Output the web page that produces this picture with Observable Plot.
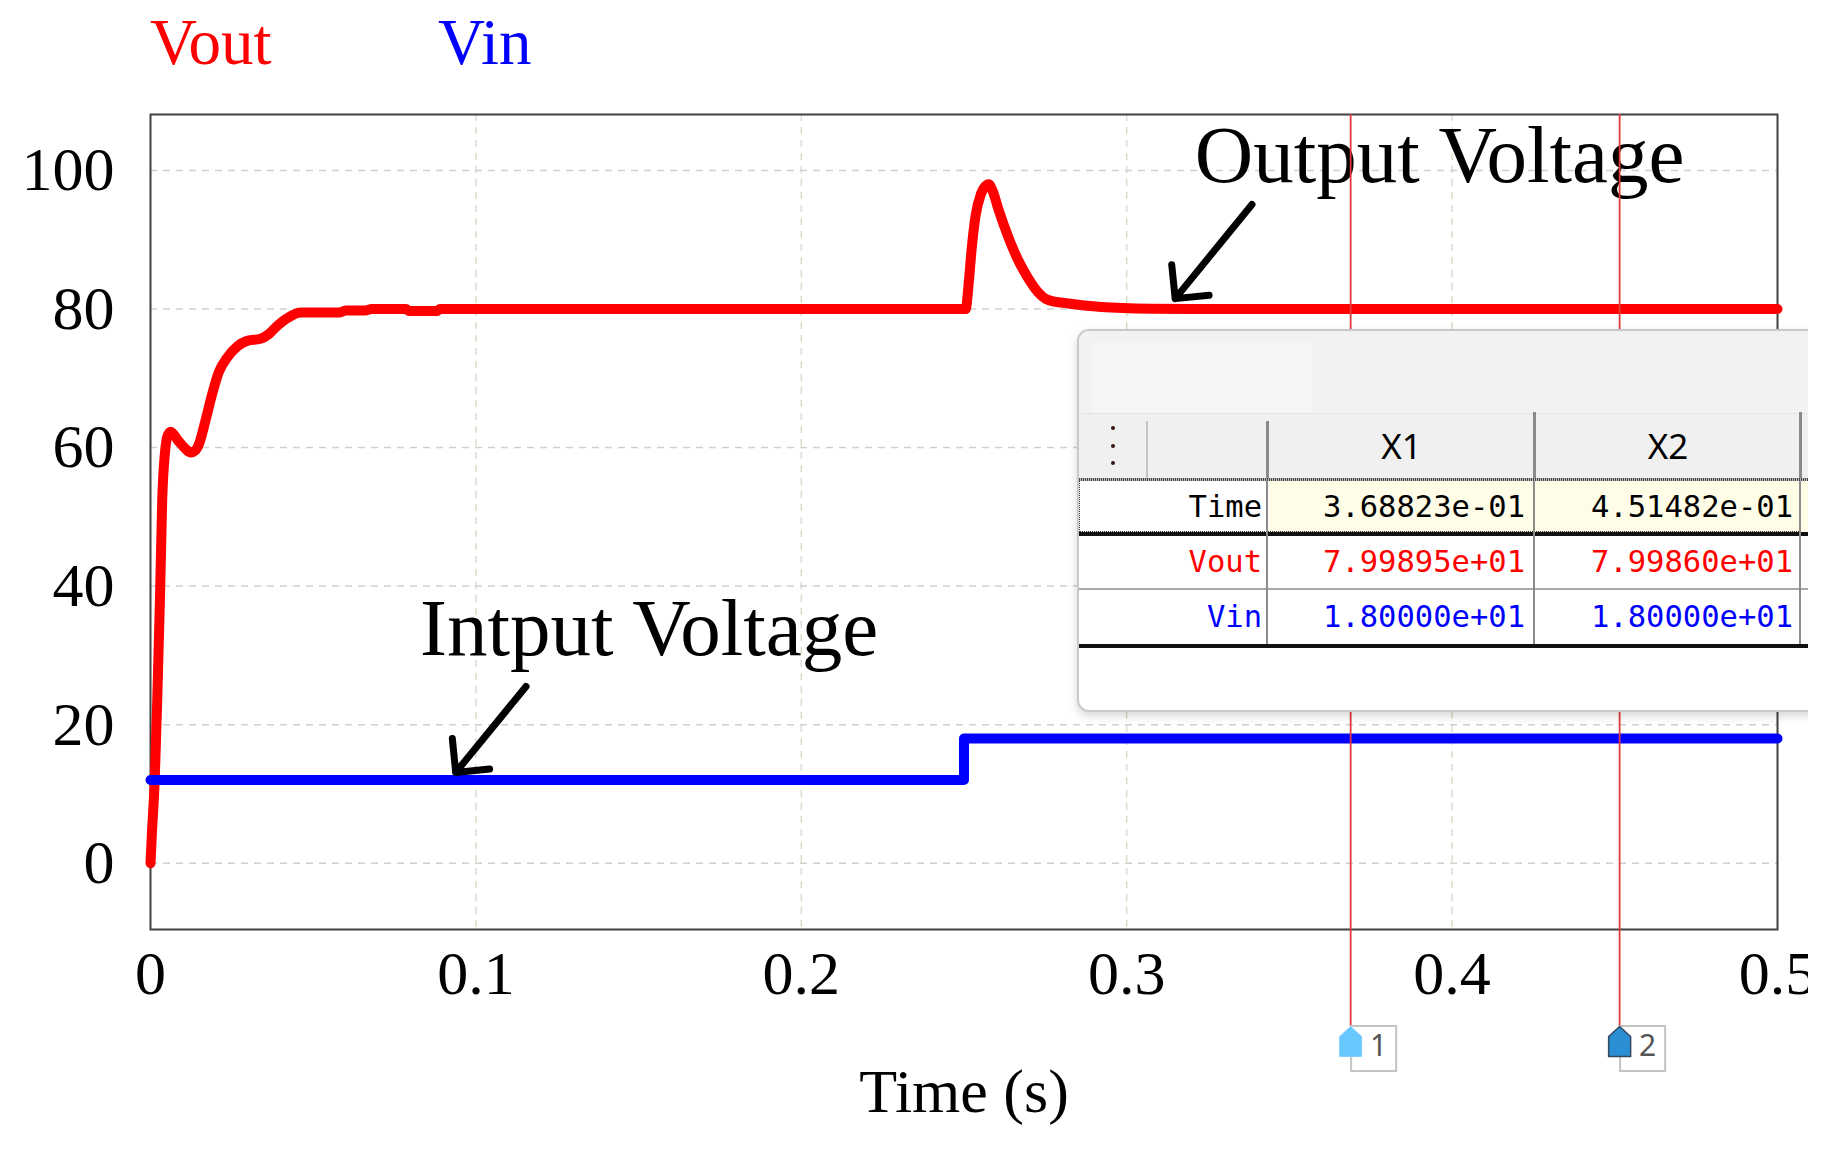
<!DOCTYPE html>
<html>
<head>
<meta charset="utf-8">
<script src="https://cdn.jsdelivr.net/npm/d3@7"></script>
<script src="https://cdn.jsdelivr.net/npm/@observablehq/plot@0.6"></script>
<style>
  html, body { margin: 0; padding: 0; background: #fff; }
  #page { position: relative; width: 1840px; height: 1153px; background: #fff; }
  #clip { position: absolute; left: 0; top: 0; width: 1808px; height: 1153px; overflow: hidden; }
  #chart { width: 1840px; }
  #chart svg { max-width: none !important; width: 1840px; height: 1053px; }
  #legend { position: relative; height: 100px; font-family: 'Liberation Serif', 'Times New Roman', serif; font-size: 65px; line-height: 65px; }
  #legend span { position: absolute; top: 10px; white-space: nowrap; }
  #panel { position: absolute; left: 1077px; top: 329px; width: 800px; height: 383px; box-sizing: border-box;
           border: 2px solid #c9c9c9; border-radius: 12px; background: #fff; overflow: hidden;
           box-shadow: 0 4px 10px rgba(0,0,0,0.16); }
  #panel div { position: absolute; box-sizing: border-box; white-space: nowrap; }
</style>
</head>
<body>
<div id="page">
  <div id="clip">
    <div id="legend"></div>
    <div id="chart"></div>
    <div id="panel"></div>
  </div>
</div>
<script>
// ---------------- data ----------------
const seriesNames = ["Vout", "Vin"];
const seriesColors = ["#ff0000", "#0000ff"];

const voutTime = [0, 0.0004, 0.0013, 0.0021, 0.0029, 0.0036, 0.0045, 0.0053, 0.0062, 0.0085, 0.0108, 0.0123, 0.0138, 0.0149, 0.0169, 0.0190, 0.0210, 0.0236, 0.0267, 0.0297, 0.0338, 0.0364, 0.0390, 0.0421, 0.0462, 0.0580, 0.0600, 0.0660, 0.0680, 0.0785, 0.0795, 0.0880, 0.0890, 0.2505, 0.2515, 0.2523, 0.2535, 0.2552, 0.2565, 0.2576, 0.2590, 0.2605, 0.2636, 0.2667, 0.2698, 0.2728, 0.2759, 0.2821, 0.2923, 0.3077, 0.3200, 0.5000];
const voutValue = [0, 4, 12, 24, 38, 52.4, 59.5, 61.8, 62.3, 61.0, 59.8, 59.3, 59.6, 60.5, 63.9, 67.8, 70.9, 73.0, 74.6, 75.4, 75.7, 76.4, 77.6, 78.7, 79.5, 79.5, 79.8, 79.8, 80.0, 80.0, 79.7, 79.7, 80.0, 80.0, 84.0, 88.4, 93.3, 96.6, 97.7, 98.0, 96.8, 94.5, 90.4, 87.0, 84.4, 82.4, 81.3, 80.8, 80.3, 80.05, 80.0, 80.0];

const vinTime = [0, 0.25, 0.5];
const vinValue = [12, 18, 18];

const xTicks = [0, 0.1, 0.2, 0.3, 0.4, 0.5];
const yTicks = [0, 20, 40, 60, 80, 100];
const xGrid = [0.1, 0.2, 0.3, 0.4];

// annotations (data units)
const noteText = ["Output Voltage", "Intput Voltage"];
const noteTime = [0.3209, 0.0828];
const noteValue = [98.3, 30.1];
const arrowFromTime = [0.3385, 0.1154];
const arrowFromValue = [95.1, 25.5];
const arrowToTime = [0.3149, 0.0938];
const arrowToValue = [81.5, 13.1];

// cursors
const cursorTimes = [0.368823, 0.451482];
const cursorIds = ["1", "2"];
const cursorHeads = ["X1", "X2"];
const tableRowNames = ["Time", "Vout", "Vin"];
const tableRowColors = ["#000000", "#ff0000", "#0000ff"];
const tableX1 = ["3.68823e-01", "7.99895e+01", "1.80000e+01"];
const tableX2 = ["4.51482e-01", "7.99860e+01", "1.80000e+01"];

// ---------------- legend ----------------
const legend = document.getElementById("legend");
const legendLeft = [150, 438];
seriesNames.forEach((n, i) => {
  const s = document.createElement("span");
  s.textContent = n;
  s.style.left = legendLeft[i] + "px";
  s.style.color = seriesColors[i];
  legend.appendChild(s);
});

// ---------------- chart ----------------
const vout = d3.zip(voutTime, voutValue).map(([t, v]) => ({t, v}));
const vin = d3.zip(vinTime, vinValue).map(([t, v]) => ({t, v}));
const notes = noteText.map((text, i) => ({
  text, t: noteTime[i], v: noteValue[i],
  t1: arrowFromTime[i], v1: arrowFromValue[i], t2: arrowToTime[i], v2: arrowToValue[i]
}));

const houseSymbol = {
  draw(context, size) {
    const r = Math.sqrt(size / Math.PI);
    const w = r * 0.733;
    context.moveTo(0, -r);
    context.lineTo(w, -r / 3);
    context.lineTo(w, r);
    context.lineTo(-w, r);
    context.lineTo(-w, -r / 3);
    context.closePath();
  }
};

const serif = "'Liberation Serif', 'Times New Roman', serif";

const chart = Plot.plot({
  width: 1840,
  height: 1053,
  marginTop: 14,
  marginLeft: 150,
  marginRight: 63,
  marginBottom: 224,
  style: { fontFamily: serif, fontSize: "62px", color: "#000", background: "transparent", overflow: "visible", maxWidth: "none" },
  x: { domain: [0, 0.5], ticks: xTicks, tickFormat: d => String(d), tickSize: 0, tickPadding: 20, label: null },
  y: { domain: [-9.57, 108.08], ticks: yTicks, tickFormat: d => String(d), tickSize: 0, tickPadding: 36, label: null },
  marks: [
    Plot.ruleX(xGrid, { stroke: "#d3e0cb", strokeWidth: 1.5, strokeDasharray: "7,6" }),
    Plot.ruleY(yTicks, { stroke: "#cfcfcf", strokeWidth: 1.5, strokeDasharray: "7,6" }),
    Plot.frame({ stroke: "#404040", strokeWidth: 2 }),
    Plot.line(vout, { x: "t", y: "v", stroke: seriesColors[0], strokeWidth: 10, curve: "monotone-x", strokeLinecap: "round", strokeLinejoin: "round" }),
    Plot.line(vin, { x: "t", y: "v", stroke: seriesColors[1], strokeWidth: 10, curve: "step-after", strokeLinecap: "round", strokeLinejoin: "round" }),
    Plot.text(notes, { x: "t", y: "v", text: "text", textAnchor: "start", lineAnchor: "bottom", fontSize: 81, fill: "#000" }),
    Plot.arrow(notes, { x1: "t1", y1: "v1", x2: "t2", y2: "v2", stroke: "#000", strokeWidth: 7, headAngle: 90, headLength: 7.3, strokeLinecap: "round", strokeLinejoin: "round" }),
    Plot.ruleX(cursorTimes, { stroke: "#e03a3a", strokeWidth: 1.8, insetBottom: -97 }),
    Plot.dot(cursorTimes, { x: d => d, frameAnchor: "bottom", dx: 23, dy: 119, symbol: "square", r: 25.4, fill: "none", stroke: "#c4c4c4", strokeWidth: 2 }),
    Plot.dot([cursorTimes[0]], { x: d => d, frameAnchor: "bottom", dy: 112, symbol: houseSymbol, r: 15, fill: "#66c8ff", stroke: "#7fd0ff", strokeWidth: 1 }),
    Plot.dot([cursorTimes[1]], { x: d => d, frameAnchor: "bottom", dy: 112, symbol: houseSymbol, r: 15, fill: "#2a8fd4", stroke: "#34495e", strokeWidth: 1.5 }),
    Plot.text(cursorIds, { x: (d, i) => cursorTimes[i], text: d => d, frameAnchor: "bottom", dx: 28, dy: 117, lineAnchor: "middle", fontFamily: "'Noto Sans', sans-serif", fontSize: 30, fill: "#555" }),
    Plot.text(["Time (s)"], { text: d => d, frameAnchor: "bottom", dy: 182, lineAnchor: "bottom", fontSize: 62, fill: "#000" })
  ]
});
document.getElementById("chart").appendChild(chart);

// ---------------- cursor table ----------------
const panel = document.getElementById("panel");
const ox = 1079, oy = 331; // panel padding-box origin in page coordinates
function box(x, y, w, h, css, text) {
  const d = document.createElement("div");
  d.style.left = (x - ox) + "px";
  d.style.top = (y - oy) + "px";
  d.style.width = w + "px";
  d.style.height = h + "px";
  Object.assign(d.style, css || {});
  if (text != null) d.textContent = text;
  panel.appendChild(d);
  return d;
}
// top area & header
box(1079, 331, 800, 82, { background: "#f2f2f2" });
box(1092, 342, 220, 71, { background: "#f5f5f5" });
box(1079, 413, 800, 66, { background: "#f0f0f0", borderTop: "1px solid #e2e2e2" });
box(1146, 421, 2, 58, { background: "#c4c4c4" });
box(1266, 421, 3, 58, { background: "#8a8a8a" });
box(1533, 412, 3, 67, { background: "#8a8a8a" });
box(1799, 412, 3, 67, { background: "#8a8a8a" });
[428, 446, 463].forEach(y => box(1111, y - 2, 4, 4, { background: "#3b1414", borderRadius: "2px" }));
const headFont = { fontFamily: "'Noto Sans', sans-serif", fontSize: "35px", lineHeight: "66px", textAlign: "center", color: "#000" };
box(1269, 413, 265, 66, headFont, cursorHeads[0]);
box(1536, 413, 264, 66, headFont, cursorHeads[1]);
box(1079, 478, 800, 3, { backgroundImage: "repeating-linear-gradient(90deg,#444 0 1px,#bbb 1px 2px)" });

// rows
const rowTop = [481, 535, 590];
const rowH = [51, 53, 54];
const rowLine = [[532, 3.5, "#111"], [588, 2, "#a8a8a8"], [644, 3.5, "#111"]];
const mono = { fontFamily: "'DejaVu Sans Mono', monospace", fontSize: "30.5px", textAlign: "right" };
tableRowNames.forEach((name, i) => {
  const y = rowTop[i], h = rowH[i];
  if (i === 0) {
    box(1269, y, 800, h, { background: "#fffde8" });
    box(1079, y, 720, h, { borderLeft: "1px dotted #333", borderBottom: "1px dotted #333" });
  }
  const lh = { lineHeight: h + "px", color: tableRowColors[i] };
  box(1079, y, 183, h, { ...mono, ...lh }, name);
  box(1269, y, 256, h, { ...mono, ...lh }, tableX1[i]);
  box(1536, y, 257, h, { ...mono, ...lh }, tableX2[i]);
  const [ly, lw, lc] = rowLine[i];
  box(1079, ly, 800, lw, { background: lc });
});
box(1266, 481, 2, 163, { background: "#8c8c8c" });
box(1533, 481, 2, 163, { background: "#8c8c8c" });
box(1799, 481, 2, 163, { background: "#8c8c8c" });
</script>
</body>
</html>
